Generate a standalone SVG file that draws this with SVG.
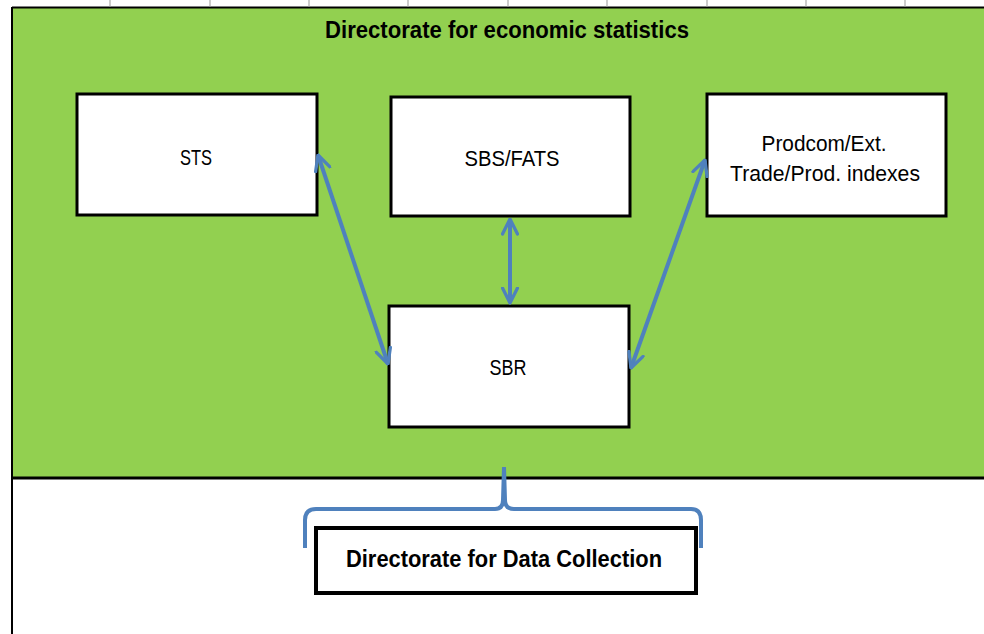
<svg xmlns="http://www.w3.org/2000/svg" width="984" height="634" viewBox="0 0 984 634">
<defs>
<style>
.box{fill:#fff;stroke:#000;stroke-width:3}
.t{font-family:"Liberation Sans",Arial,sans-serif;font-size:22px;fill:#000;text-anchor:middle}
.tb{font-family:"Liberation Sans",Arial,sans-serif;font-size:23px;font-weight:bold;fill:#000;text-anchor:middle}
.con{stroke:#4F81BD;stroke-width:4;fill:none}
</style>
<marker id="ah" viewBox="0 0 12 12" refX="11" refY="6" markerWidth="4.5" markerHeight="4.5" orient="auto-start-reverse" markerUnits="strokeWidth">
<path d="M1,1 L11,6 L1,11" fill="none" stroke="#4F81BD" stroke-width="2.2" stroke-linecap="round" stroke-linejoin="round"/>
</marker>
</defs>
<rect width="984" height="634" fill="#fff"/>
<g id="frame">
<rect x="12" y="8" width="980" height="470" fill="#92D050"/>
<line x1="12" y1="7.5" x2="984" y2="7.5" stroke="#000" stroke-width="2"/>
<g stroke="#999" stroke-width="1">
<line x1="110" y1="0" x2="110" y2="7"/><line x1="210" y1="0" x2="210" y2="7"/><line x1="309" y1="0" x2="309" y2="7"/><line x1="408" y1="0" x2="408" y2="7"/><line x1="508" y1="0" x2="508" y2="7"/><line x1="607" y1="0" x2="607" y2="7"/><line x1="707" y1="0" x2="707" y2="7"/><line x1="806" y1="0" x2="806" y2="7"/><line x1="905" y1="0" x2="905" y2="7"/>
</g>
<line x1="12" y1="7" x2="12" y2="634" stroke="#000" stroke-width="2"/>
<line x1="12" y1="478" x2="984" y2="478" stroke="#000" stroke-width="3"/>
<text class="tb" x="507" y="38" textLength="364" lengthAdjust="spacingAndGlyphs">Directorate for economic statistics</text>
</g>
<g id="sts"><rect class="box" x="77" y="94" width="240" height="121"/><text class="t" x="196" y="165" textLength="32" lengthAdjust="spacingAndGlyphs">STS</text></g>
<g id="sbsfats"><rect class="box" x="391" y="97" width="239" height="119"/><text class="t" x="512" y="166" textLength="95" lengthAdjust="spacingAndGlyphs">SBS/FATS</text></g>
<g id="prodcom"><rect class="box" x="707" y="94" width="239" height="122"/><text class="t" x="824" y="151" textLength="125" lengthAdjust="spacingAndGlyphs">Prodcom/Ext.</text><text class="t" x="825" y="181" textLength="190" lengthAdjust="spacingAndGlyphs">Trade/Prod. indexes</text></g>
<g id="sbr"><rect class="box" x="389" y="306" width="240" height="121"/><text class="t" x="508" y="375" textLength="37" lengthAdjust="spacingAndGlyphs">SBR</text></g>
<g id="datacollection"><rect x="316" y="528" width="380" height="65" fill="#fff" stroke="#000" stroke-width="4"/><text class="tb" x="504" y="567" textLength="316" lengthAdjust="spacingAndGlyphs">Directorate for Data Collection</text></g>
<g id="connectors">
<line class="con" x1="318" y1="155" x2="388" y2="364" marker-start="url(#ah)" marker-end="url(#ah)"/>
<line class="con" x1="510" y1="219" x2="510" y2="303" marker-start="url(#ah)" marker-end="url(#ah)"/>
<line class="con" x1="705" y1="160" x2="631" y2="368" marker-start="url(#ah)" marker-end="url(#ah)"/>
<path class="con" stroke-width="3" d="M305,548 L305,520 Q305,509 316,509 L495,509 Q503,509 503,500 L504,467 L505,500 Q505,509 514,509 L691,509 Q701,509 701,520 L701,548"/>
</g>
</svg>
